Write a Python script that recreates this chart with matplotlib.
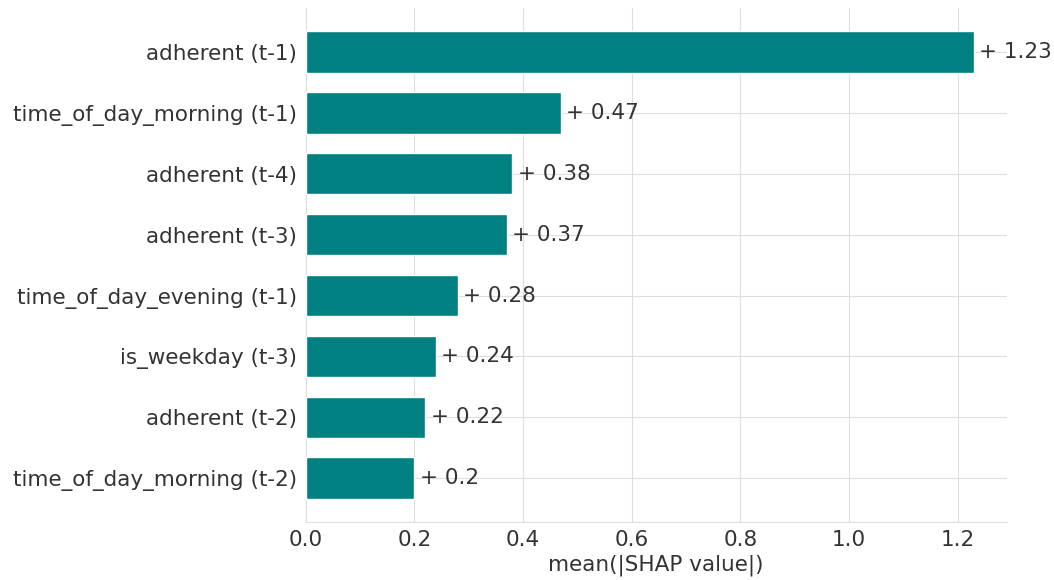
import matplotlib
matplotlib.use("Agg")
import matplotlib.pyplot as plt
import seaborn as sns

features = [
    "adherent (t-1)",
    "time_of_day_morning (t-1)",
    "adherent (t-4)",
    "adherent (t-3)",
    "time_of_day_evening (t-1)",
    "is_weekday (t-3)",
    "adherent (t-2)",
    "time_of_day_morning (t-2)",
]
mean_abs_shap = [1.23, 0.47, 0.38, 0.37, 0.28, 0.24, 0.22, 0.20]
value_labels = ["1.23", "0.47", "0.38", "0.37", "0.28", "0.24", "0.22", "0.2"]
xticks = [0.0, 0.2, 0.4, 0.6, 0.8, 1.0, 1.2]

sns.set_style("whitegrid")
plt.rcParams["font.family"] = ["DejaVu Sans"]

text_color = "#333333"
fs = 15.5
fig = plt.figure(figsize=(10.54, 5.8), dpi=100)
ax = fig.add_axes([0.290, 0.100, 0.665, 0.886])

n = len(features)
ypos = list(range(n - 1, -1, -1))
ax.barh(ypos, mean_abs_shap, height=0.68, color="#008080", zorder=3)

for y, v, lab in zip(ypos, mean_abs_shap, value_labels):
    ax.text(v + 0.010, y, "+ " + lab, va="center", ha="left",
            fontsize=fs, color=text_color, zorder=4)

ax.set_yticks(ypos)
ax.set_yticklabels(features, fontsize=fs, color=text_color)
ax.set_xticks(xticks)
ax.set_xticklabels([f"{t:.1f}" for t in xticks], fontsize=fs, color=text_color)
ax.set_xlim(0, 1.29)
ax.set_ylim(-0.72, n - 1 + 0.72)
ax.set_xlabel("mean(|SHAP value|)", fontsize=fs, color=text_color, labelpad=3)

ax.grid(True, color="#dddddd", linewidth=0.8, zorder=0)
for side in ("top", "right", "left"):
    ax.spines[side].set_visible(False)
ax.spines["bottom"].set_color("#dddddd")
ax.tick_params(axis="both", length=0, pad=6)

fig.savefig("out.png", dpi=100, facecolor="white")
